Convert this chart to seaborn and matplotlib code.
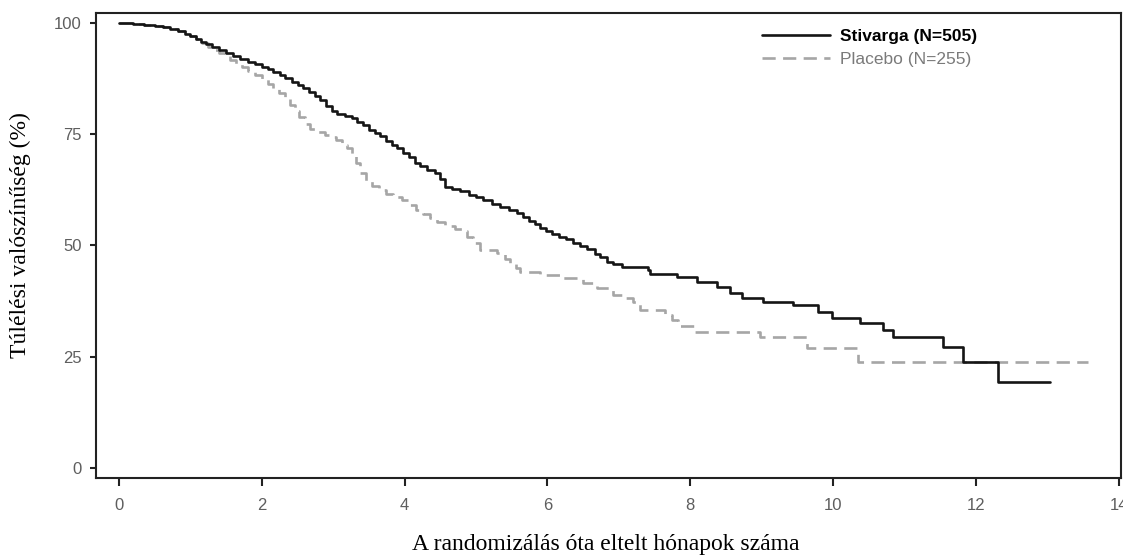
import numpy as np
import pandas as pd
import matplotlib
matplotlib.use("Agg")
import matplotlib.pyplot as plt
import seaborn as sns
from matplotlib.lines import Line2D

# Kaplan-Meier estimates (months since randomisation, survival %)
stivarga_months = [
    0.00, 0.20, 0.35, 0.50, 0.62, 0.72, 0.82, 0.92, 1.00, 1.08, 1.15, 1.22,
    1.30, 1.40, 1.50, 1.60, 1.70, 1.80, 1.90, 2.00, 2.08, 2.16, 2.25, 2.33,
    2.42, 2.50, 2.58, 2.66, 2.74, 2.82, 2.90, 2.98, 3.06, 3.16, 3.26, 3.34,
    3.42, 3.50, 3.58, 3.66, 3.74, 3.82, 3.90, 3.98, 4.06, 4.14, 4.22, 4.32,
    4.42, 4.50, 4.56, 4.66, 4.78, 4.90, 5.00, 5.10, 5.22, 5.34, 5.46, 5.57,
    5.66, 5.74, 5.82, 5.90, 5.98, 6.06, 6.16, 6.26, 6.36, 6.46, 6.56, 6.66,
    6.74, 6.83, 6.92, 7.04, 7.41, 7.44, 7.82, 8.10, 8.38, 8.56, 8.73, 9.02,
    9.44, 9.79, 9.99, 10.38, 10.70, 10.84, 11.54, 11.82, 12.31, 13.04,
]
stivarga_surv = [
    100.0, 99.8, 99.6, 99.3, 99.0, 98.6, 98.2, 97.6, 97.0, 96.4, 95.8, 95.3,
    94.7, 94.0, 93.3, 92.5, 92.0, 91.3, 90.8, 90.2, 89.6, 89.0, 88.3, 87.6,
    86.8, 86.0, 85.3, 84.6, 83.6, 82.6, 81.3, 80.3, 79.6, 79.2, 78.6, 77.8,
    77.0, 76.0, 75.2, 74.5, 73.5, 72.6, 71.8, 70.8, 69.8, 68.6, 67.8, 67.0,
    66.3, 65.0, 63.2, 62.8, 62.2, 61.4, 60.8, 60.2, 59.3, 58.7, 58.0, 57.3,
    56.4, 55.5, 54.8, 54.0, 53.3, 52.6, 52.0, 51.4, 50.6, 49.8, 49.2, 48.2,
    47.4, 46.3, 45.8, 45.2, 44.5, 43.6, 42.9, 41.8, 40.7, 39.3, 38.2, 37.3,
    36.6, 35.0, 33.7, 32.6, 31.0, 29.4, 27.2, 23.8, 19.3, 19.3,
]

placebo_months = [
    0.00, 0.20, 0.35, 0.50, 0.62, 0.72, 0.82, 0.92, 1.00, 1.08, 1.16, 1.24,
    1.32, 1.40, 1.48, 1.56, 1.64, 1.72, 1.80, 1.90, 2.00, 2.08, 2.16, 2.24,
    2.32, 2.40, 2.46, 2.52, 2.60, 2.68, 2.78, 2.88, 2.96, 3.04, 3.12, 3.20,
    3.26, 3.32, 3.38, 3.46, 3.54, 3.64, 3.74, 3.84, 3.96, 4.06, 4.16, 4.26,
    4.36, 4.46, 4.56, 4.70, 4.80, 4.88, 4.96, 5.06, 5.29, 5.40, 5.48, 5.56,
    5.62, 5.90, 6.22, 6.50, 6.69, 6.92, 7.06, 7.20, 7.30, 7.65, 7.75, 7.83,
    8.07, 8.98, 9.64, 10.35, 13.57,
]
placebo_surv = [
    100.0, 99.8, 99.6, 99.3, 99.0, 98.6, 98.2, 97.6, 97.0, 96.3, 95.5, 94.7,
    93.9, 93.2, 92.5, 91.6, 90.8, 90.1, 89.2, 88.3, 87.4, 86.4, 85.2, 84.2,
    83.0, 81.6, 80.2, 78.8, 77.3, 76.2, 75.6, 74.8, 74.4, 73.6, 72.6, 71.8,
    70.6, 68.5, 66.3, 64.6, 63.4, 62.4, 61.6, 61.0, 60.2, 59.2, 58.0, 57.0,
    56.2, 55.2, 54.4, 53.8, 53.2, 51.8, 50.6, 49.0, 48.3, 47.0, 46.1, 45.0,
    44.0, 43.4, 42.7, 41.6, 40.4, 38.9, 38.2, 37.3, 35.6, 34.4, 33.3, 31.9,
    30.6, 29.4, 27.0, 23.8, 23.8,
]

series_labels = ["Stivarga (N=505)", "Placebo (N=255)"]
x_ticks = [0, 2, 4, 6, 8, 10, 12, 14]
y_ticks = [0, 25, 50, 75, 100]
x_title = "A randomizálás óta eltelt hónapok száma"
y_title = "Túlélési valószínűség (%)"

sns.set_style("ticks")
plt.rcParams["font.family"] = ["Liberation Sans", "DejaVu Sans"]

fig = plt.figure(figsize=(11.23, 5.58), dpi=100)
ax = fig.add_axes([0.0855, 0.1434, 0.9125, 0.8333])

stiv_df = pd.DataFrame({"month": stivarga_months, "surv": stivarga_surv})
plac_df = pd.DataFrame({"month": placebo_months, "surv": placebo_surv})

plac_color = "#a6a6a6"
stiv_color = "#151515"
dash = (0, (5.0, 2.8))

sns.lineplot(data=plac_df, x="month", y="surv", ax=ax, color=plac_color,
             linewidth=1.9, linestyle=dash, drawstyle="steps-post",
             estimator=None, sort=False, zorder=2)
sns.lineplot(data=stiv_df, x="month", y="surv", ax=ax, color=stiv_color,
             linewidth=1.9, drawstyle="steps-post",
             estimator=None, sort=False, zorder=3)

ax.set_xlim(-0.322, 14.03)
ax.set_ylim(-2.25, 102.25)
ax.set_xticks(x_ticks)
ax.set_yticks(y_ticks)
ax.tick_params(axis="both", direction="out", color="#222222", width=1.5,
               labelsize=12, labelcolor="#5e5e5e")
ax.tick_params(axis="x", length=5.5, pad=9)
ax.tick_params(axis="y", length=4.5, pad=6)
for side in ["top", "bottom", "left", "right"]:
    ax.spines[side].set_visible(True)
    ax.spines[side].set_color("#222222")
    ax.spines[side].set_linewidth(1.5)

ax.set_xlabel(x_title, fontsize=17, family="Liberation Serif", color="black")
ax.set_ylabel(y_title, fontsize=17, family="Liberation Serif", color="black")
ax.xaxis.set_label_coords(0.4976, -0.144)
ax.xaxis.label.set_va("center")
ax.yaxis.set_label_coords(-0.074, 0.523)
ax.yaxis.label.set_va("center")
ax.yaxis.label.set_rotation_mode("default")

handles = [
    Line2D([], [], color=stiv_color, linewidth=1.9),
    Line2D([], [], color=plac_color, linewidth=1.9, linestyle=dash),
]
leg = ax.legend(handles, series_labels, loc="upper left",
                bbox_to_anchor=(0.650, 0.965), frameon=False, fontsize=12.5,
                handlelength=3.9, handletextpad=0.6, labelspacing=0.45,
                borderpad=0, borderaxespad=0)
texts = leg.get_texts()
texts[0].set_fontweight("bold")
texts[0].set_color("black")
texts[1].set_color("#7a7a7a")

fig.savefig("out.png", dpi=100)
